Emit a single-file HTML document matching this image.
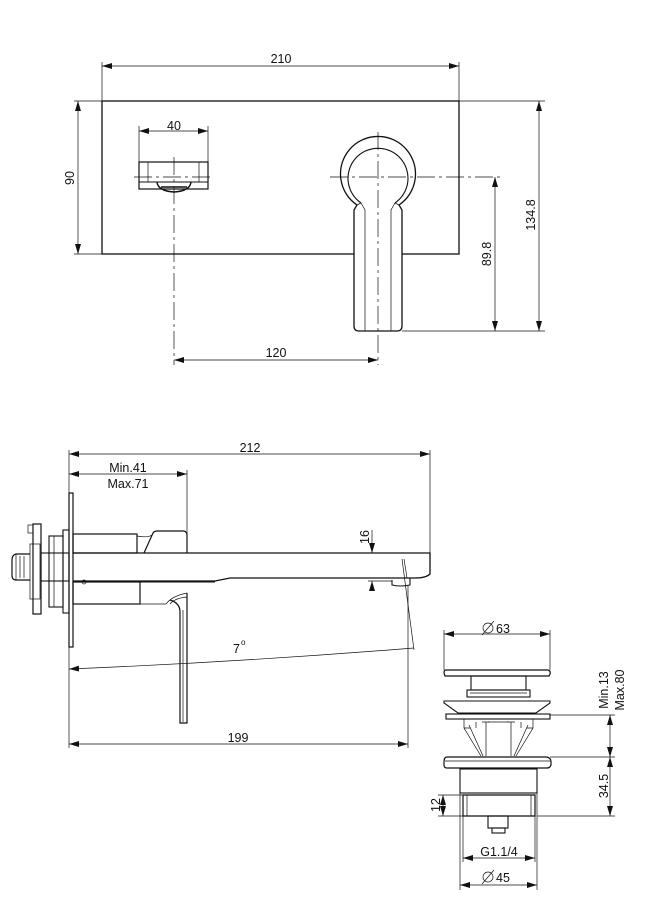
<!DOCTYPE html>
<html><head><meta charset="utf-8"><style>
html,body{margin:0;padding:0;background:#fff;}
svg{display:block;}
text{font-family:"Liberation Sans",sans-serif;font-size:12.5px;fill:#111;}
</style></head><body>
<svg width="657" height="907" viewBox="0 0 657 907" xmlns="http://www.w3.org/2000/svg">
<defs>
<marker id="a" viewBox="0 0 10 6" refX="10" refY="3" markerWidth="10" markerHeight="6" orient="auto-start-reverse" markerUnits="userSpaceOnUse"><path d="M0,0 L10,3 L0,6 z" fill="#111"/></marker>
</defs>
<g stroke="#111" fill="none" stroke-width="0.7">
<!-- ===== TOP VIEW ===== -->
<line x1="102" y1="66" x2="459" y2="66" marker-start="url(#a)" marker-end="url(#a)"/>
<line x1="102" y1="62" x2="102" y2="101"/><line x1="459" y1="62" x2="459" y2="101"/>
<line x1="78" y1="101" x2="78" y2="254" marker-start="url(#a)" marker-end="url(#a)"/>
<line x1="74" y1="101" x2="102" y2="101"/><line x1="74" y1="254" x2="102" y2="254"/>
<rect x="102" y="101" width="357" height="153" stroke-width="1.3"/>
<rect x="139" y="162" width="69" height="27" stroke-width="1.2"/>
<line x1="139" y1="182" x2="208" y2="182" stroke-width="1"/>
<line x1="148" y1="162" x2="148" y2="182"/><line x1="199" y1="162" x2="199" y2="182"/>
<path d="M157,182 Q158,191 174,192 Q190,191 191,182" stroke-width="1.4"/>
<line x1="161" y1="187" x2="187" y2="187" stroke-width="1.6"/>
<line x1="139" y1="126" x2="139" y2="162"/><line x1="208" y1="126" x2="208" y2="162"/>
<line x1="139" y1="131" x2="208" y2="131" marker-start="url(#a)" marker-end="url(#a)"/>
<line x1="174" y1="157" x2="174" y2="365" stroke-dasharray="18,4,3,4"/>
<line x1="134" y1="177" x2="213" y2="177" stroke-dasharray="18,4,3,4"/>
<path d="M357,205 A37.5,37.5 0 1 1 399,205 L402,210 L402,326 Q402,331 397,331 L359,331 Q354,331 354,326 L354,210 Z" stroke-width="1.3" fill="#fff"/>
<path d="M361,203 A30,30 0 1 1 395,203" stroke-width="1.1"/>
<path d="M361,203 L357,205 M395,203 L399,205" />
<path d="M361,203 L365,210 L365,331 M395,203 L391,210 L391,331"/>
<line x1="330" y1="177" x2="500" y2="177" stroke-dasharray="18,4,3,4"/>
<line x1="378" y1="132" x2="378" y2="365" stroke-dasharray="18,4,3,4"/>
<line x1="174" y1="360" x2="378" y2="360" marker-start="url(#a)" marker-end="url(#a)"/>
<line x1="459" y1="101" x2="545" y2="101"/>
<line x1="402" y1="331" x2="545" y2="331"/>
<line x1="495" y1="177" x2="495" y2="331" marker-start="url(#a)" marker-end="url(#a)"/>
<line x1="539" y1="101" x2="539" y2="331" marker-start="url(#a)" marker-end="url(#a)"/>

<!-- ===== SIDE VIEW ===== -->
<line x1="69" y1="454" x2="430" y2="454" marker-start="url(#a)" marker-end="url(#a)"/>
<line x1="69" y1="474" x2="187" y2="474" marker-start="url(#a)" marker-end="url(#a)"/>
<line x1="69" y1="450" x2="69" y2="748"/>
<line x1="187" y1="470" x2="187" y2="540"/>
<line x1="430" y1="450" x2="430" y2="553"/>
<rect x="69" y="493" width="4" height="154" stroke-width="1.2"/>
<path d="M73,553 L430,553 L430,574 Q426,578 415,578 L400,578 L230,578 L215,581 L73,581" stroke-width="1.3"/>
<line x1="73" y1="582" x2="215" y2="582" stroke-width="1"/>
<path d="M392,580 L392,585 Q400,587 410,585 L410,578" stroke-width="1.1"/>
<line x1="404" y1="559" x2="407" y2="578"/>
<rect x="73" y="534" width="64" height="19" stroke-width="1.2"/>
<path d="M144,553 L153,533 Q154,531 158,531 L184,531 Q187,532 187,535 L187,553" stroke-width="1.2"/>
<path d="M137,536 Q148,538 152,535"/>
<rect x="73" y="582" width="67" height="22" stroke-width="1.2"/>
<line x1="140" y1="604" x2="166" y2="604"/>
<path d="M166,604 Q172,596 187,593 M170,604 Q175,598 187,597" />
<path d="M170,600 Q180,603 180,612 L180,723 L187,723 L187,593" stroke-width="1.2"/>
<line x1="183" y1="610" x2="183" y2="722"/>
<circle cx="84" cy="582" r="2"/>
<rect x="63" y="530" width="6" height="83" stroke-width="1.1"/>
<rect x="49" y="536" width="14" height="71" stroke-width="1.1"/>
<line x1="54" y1="536" x2="54" y2="607"/>
<rect x="41" y="553" width="28" height="28" stroke-width="1.1"/>
<rect x="33" y="524" width="8" height="90" stroke-width="1.2"/>
<rect x="28" y="525" width="5" height="8"/>
<rect x="30" y="544" width="10" height="55"/>
<path d="M30,554 L16,554 Q12,555 12,560 L12,575 Q12,580 16,580 L30,580" stroke-width="1.2"/>
<line x1="16" y1="554" x2="16" y2="580"/><line x1="20" y1="556" x2="20" y2="578"/><line x1="24" y1="556" x2="24" y2="578"/>
<line x1="372" y1="530" x2="372" y2="553" marker-end="url(#a)"/>
<line x1="372" y1="590" x2="372" y2="581" marker-end="url(#a)"/>
<line x1="368" y1="581" x2="392" y2="581"/>
<path d="M69,669 Q240,662 414,648" marker-start="url(#a)"/>
<line x1="402" y1="559" x2="414" y2="650"/>
<line x1="408" y1="585" x2="408" y2="748"/>
<line x1="69" y1="744" x2="408" y2="744" marker-start="url(#a)" marker-end="url(#a)"/>

<!-- ===== DRAIN ===== -->
<line x1="444" y1="634" x2="550" y2="634" marker-start="url(#a)" marker-end="url(#a)"/>
<line x1="444" y1="630" x2="444" y2="670"/><line x1="550" y1="630" x2="550" y2="670"/>
<path d="M446,670 L548,670 Q551,671 550,674 L549,676 L445,676 L444,673 Q444,670 446,670 Z" stroke-width="1.2"/>
<rect x="471" y="676" width="55" height="14" stroke-width="1.1"/>
<rect x="467" y="690" width="63" height="7" stroke-width="1.1"/>
<line x1="470" y1="693" x2="527" y2="693"/>
<path d="M444,701 L550,701 L550,703 L536,713 L458,713 L444,703 Z" stroke-width="1.1"/>
<rect x="446" y="714" width="104" height="5" stroke-width="1.1"/>
<path d="M464,719 L464,728 L481,756 M469,725 L483,756 M486,722 L486,756 M482,722 L490,722 M533,719 L533,728 L516,756 M528,725 L514,756 M511,722 L511,756 M507,722 L515,722 M464,728 L470,728 M533,728 L527,728 M476,722 L476,728 M521,722 L521,728" />
<line x1="464" y1="719" x2="533" y2="719"/>
<line x1="488" y1="722" x2="509" y2="722"/>
<path d="M447,757 L547,757 Q551,758 551,762 L551,765 Q550,768 547,768 L447,768 Q444,768 444,765 L444,762 Q444,757 447,757 Z" stroke-width="1.2"/>
<line x1="445" y1="761" x2="550" y2="761"/>
<rect x="460" y="769" width="77" height="24" stroke-width="1.1"/>
<path d="M463,795 L535,795 L535,816 L463,816 Z" stroke-width="1.2"/>
<line x1="467" y1="795" x2="467" y2="816"/><line x1="531" y1="795" x2="531" y2="816"/>
<rect x="488" y="816" width="20" height="12" stroke-width="1.1"/>
<rect x="492" y="828" width="13" height="5" stroke-width="1.1"/>
<line x1="550" y1="715" x2="615" y2="715"/>
<line x1="550" y1="757" x2="615" y2="757"/>
<line x1="537" y1="816" x2="615" y2="816"/>
<line x1="610" y1="715" x2="610" y2="757" marker-start="url(#a)" marker-end="url(#a)"/>
<line x1="610" y1="757" x2="610" y2="816" marker-start="url(#a)" marker-end="url(#a)"/>
<line x1="438" y1="795" x2="463" y2="795"/>
<line x1="438" y1="816" x2="463" y2="816"/>
<line x1="443" y1="795" x2="443" y2="816" marker-start="url(#a)" marker-end="url(#a)"/>
<line x1="463" y1="816" x2="463" y2="862"/><line x1="535" y1="816" x2="535" y2="862"/>
<line x1="463" y1="858" x2="535" y2="858" marker-start="url(#a)" marker-end="url(#a)"/>
<line x1="460" y1="793" x2="460" y2="890"/><line x1="537" y1="793" x2="537" y2="890"/>
<line x1="460" y1="885" x2="537" y2="885" marker-start="url(#a)" marker-end="url(#a)"/>
<circle cx="488" cy="628" r="5"/><line x1="482" y1="635" x2="494" y2="621"/>
<circle cx="488" cy="877" r="5"/><line x1="482" y1="884" x2="494" y2="870"/>
</g>
<g>
<text x="281" y="63" text-anchor="middle">210</text>
<text x="174" y="130" text-anchor="middle">40</text>
<text x="276" y="357" text-anchor="middle">120</text>
<text transform="translate(74,178) rotate(-90)" text-anchor="middle">90</text>
<text transform="translate(491,254) rotate(-90)" text-anchor="middle">89.8</text>
<text transform="translate(535,215) rotate(-90)" text-anchor="middle">134.8</text>
<text x="250" y="452" text-anchor="middle">212</text>
<text x="128" y="472" text-anchor="middle">Min.41</text>
<text x="128" y="488" text-anchor="middle">Max.71</text>
<text transform="translate(369,537) rotate(-90)" text-anchor="middle">16</text>
<text x="233" y="653">7</text><text x="241" y="645" style="font-size:8px">o</text>
<text x="238" y="742" text-anchor="middle">199</text>
<text x="496" y="633">63</text>
<text transform="translate(608,690) rotate(-90)" text-anchor="middle">Min.13</text>
<text transform="translate(624,690) rotate(-90)" text-anchor="middle">Max.80</text>
<text transform="translate(608,786) rotate(-90)" text-anchor="middle">34.5</text>
<text transform="translate(440,805) rotate(-90)" text-anchor="middle">12</text>
<text x="499" y="856" text-anchor="middle">G1.1/4</text>
<text x="496" y="882">45</text>
</g>
</svg>
</body></html>
